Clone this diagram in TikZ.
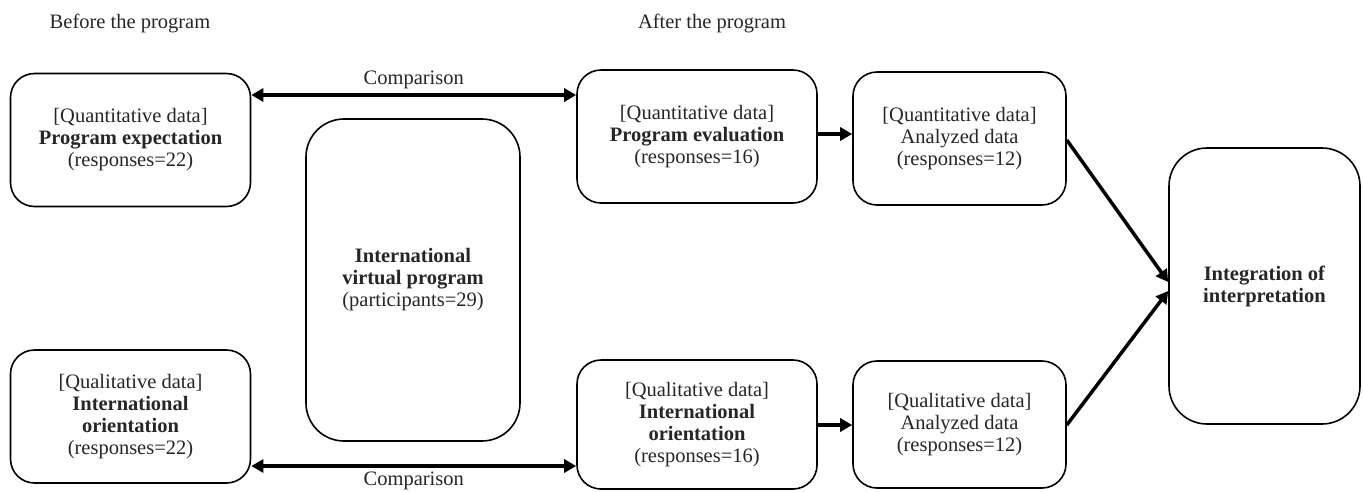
\documentclass[tikz,border=0pt]{standalone}
\usepackage{fontspec}
\setmainfont{LiberationSerif}[Extension=.ttf, UprightFont=*-Regular, BoldFont=*-Bold, ItalicFont=*-Italic, BoldItalicFont=*-BoldItalic]
\usetikzlibrary{arrows.meta}
\begin{document}
\begin{tikzpicture}[x=1pt,y=-1pt,
  box/.style={draw, line width=1.6pt, rounded corners=24pt, align=center, inner sep=0pt,
    font=\fontsize{20.5}{22}\selectfont, text=black!85},
  big/.style={box, rounded corners=38pt},
  conn/.style={line width=3.5pt, -{Triangle[length=12pt,width=13pt]}},
  both/.style={line width=3.5pt, {Triangle[length=12pt,width=13pt]}-{Triangle[length=12pt,width=13pt]}},
  lbl/.style={font=\fontsize{20.5}{22}\selectfont, text=black!85}]
\useasboundingbox (0,0) rectangle (1363,491);
\node[lbl] (hb) at (130,23) {Before the program};
\node[lbl] (ha) at (712,23) {After the program};
\node[box, minimum width=240pt, minimum height=133pt] (A) at (130.5,140) {[Quantitative data]\\\textbf{Program expectation}\\(responses=22)};
\node[box, minimum width=240pt, minimum height=133pt] (B) at (697,136.5) {[Quantitative data]\\\textbf{Program evaluation}\\(responses=16)};
\node[box, minimum width=213pt, minimum height=133pt] (C) at (959.5,138.5) {[Quantitative data]\\Analyzed data\\(responses=12)};
\node[big, minimum width=191pt, minimum height=276pt] (D) at (1264.5,286) {\textbf{Integration of}\\\textbf{interpretation}};
\node[big, minimum width=214pt, minimum height=322pt] (E) at (413,280) {\textbf{International}\\\textbf{virtual program}\\(participants=29)};
\node[box, minimum width=240pt, minimum height=133pt] (F) at (130.5,416.5) {[Qualitative data]\\\textbf{International}\\\textbf{orientation}\\(responses=22)};
\node[box, minimum width=240pt, minimum height=129pt] (G) at (697,424.5) {[Qualitative data]\\\textbf{International}\\\textbf{orientation}\\(responses=16)};
\node[box, minimum width=213pt, minimum height=127pt] (H) at (959.5,424.5) {[Qualitative data]\\Analyzed data\\(responses=12)};
\draw[both] (A.east |- 0,95) -- node[lbl, above=1pt] {Comparison} (B.west |- 0,95);
\draw[both] (F.east |- 0,466) -- node[lbl, below=1pt] {Comparison} (G.west |- 0,466);
\draw[conn] (B.east |- 0,134) -- (C.west |- 0,134);
\draw[conn] (G.east |- 0,425) -- (H.west |- 0,425);
\draw[conn] (C.east |- 0,140) -- (D.west |- 0,282);
\draw[conn] (H.east |- 0,425) -- (D.west |- 0,291);
\end{tikzpicture}
\end{document}
